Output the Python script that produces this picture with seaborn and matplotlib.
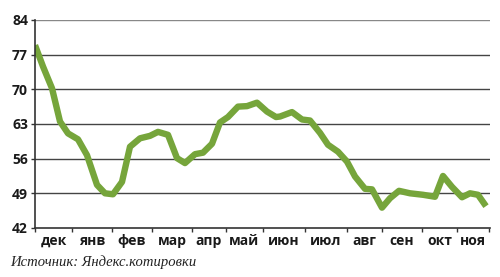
import matplotlib
matplotlib.use("Agg")
import matplotlib.pyplot as plt
import seaborn as sns
import pandas as pd
import numpy as np

# Data (x = trading-day position, y = value)
day = [0, 8, 17, 25, 33, 43, 52, 62, 70, 78, 87, 95, 105, 115, 123, 133, 142, 150,
       160, 168, 177, 185, 193, 203, 212, 222, 232, 241, 245, 257, 267, 275, 285,
       293, 303, 312, 320, 330, 337, 347, 355, 364, 375, 388, 400, 408, 417, 427,
       435, 443, 451]
value = [78.9, 74.6, 70.2, 63.5, 61.1, 59.9, 56.7, 50.7, 49.0, 48.8, 51.3, 58.4,
         60.1, 60.6, 61.4, 60.8, 56.1, 55.1, 56.9, 57.2, 59.0, 63.3, 64.4, 66.5,
         66.6, 67.3, 65.5, 64.4, 64.5, 65.4, 63.9, 63.7, 61.2, 58.8, 57.4, 55.4,
         52.4, 49.9, 49.8, 46.1, 48.0, 49.5, 49.0, 48.7, 48.3, 52.5, 50.3, 48.2,
         49.0, 48.7, 46.4]
month_bounds = [0, 37, 77, 117, 157, 191, 228, 270, 312, 347, 387, 422, 454]
month_labels = ["дек", "янв", "фев", "мар", "апр", "май", "июн", "июл",
                "авг", "сен", "окт", "ноя"]
y_ticks = [42, 49, 56, 63, 70, 77, 84]
source = "Источник: Яндекс.котировки"

df = pd.DataFrame({"day": day, "value": value})

sns.set_style("white")
plt.rcParams["font.family"] = ["Open Sans", "DejaVu Sans"]

fig = plt.figure(figsize=(5.0, 2.77), dpi=100)
ax = fig.add_axes([0.07, 0.177, 0.91, 0.751])

sns.lineplot(data=df, x="day", y="value", ax=ax, color="#76a53b",
             linewidth=4.6, solid_joinstyle="round", solid_capstyle="butt")

ax.set_xlim(0, 455)
ax.set_ylim(42, 84)
ax.set_yticks(y_ticks)
for t in y_ticks[1:]:
    ax.axhline(t, color="#444444" if t != 84 else "#888888", linewidth=1.0, zorder=0)

ax.set_xticks(month_bounds)
ax.set_xticklabels([""] * len(month_bounds))
centers = [(a + b) / 2 for a, b in zip(month_bounds[:-1], month_bounds[1:])]
ax.set_xticks(centers, minor=True)
ax.set_xticklabels(month_labels, minor=True, fontsize=10, fontweight="bold",
                   color="#1a1a1a")
ax.tick_params(axis="x", which="minor", length=0, pad=4)
ax.tick_params(axis="x", which="major", direction="out", length=3, width=1,
               color="#333333", bottom=True)
ax.tick_params(axis="y", which="major", direction="out", length=3, width=1,
               color="#333333", left=True, pad=2)
for lab in ax.get_yticklabels():
    lab.set_fontsize(10)
    lab.set_fontweight("bold")
    lab.set_color("#1a1a1a")

ax.set_xlabel("")
ax.set_ylabel("")
for side in ["top", "right"]:
    ax.spines[side].set_visible(False)
for side in ["left", "bottom"]:
    ax.spines[side].set_color("#333333")
    ax.spines[side].set_linewidth(1.2)

fig.text(0.02, 0.04, source, fontsize=10.5, style="italic",
         family=["Liberation Serif", "DejaVu Serif"], color="#222222")

fig.savefig("out.png", dpi=100)
